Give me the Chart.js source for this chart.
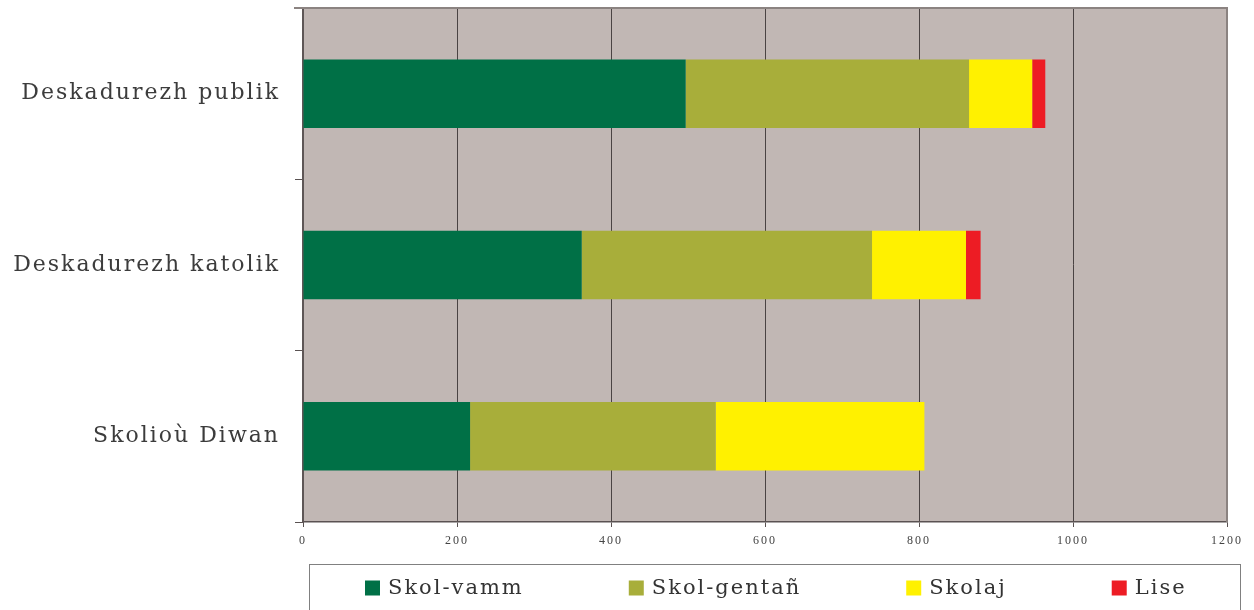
<!DOCTYPE html>
<html>
<head>
<meta charset="utf-8">
<script src="https://cdn.jsdelivr.net/npm/chart.js@4"></script>
<style>
  body { margin: 0; background: #fff; }
  #wrap { width: 1254px; height: 610px; position: relative; }
</style>
</head>
<body>
<div id="wrap"><canvas id="schoolChart"></canvas></div>
<script>
// ---------- DATA ----------
const categories = ["Deskadurezh publik", "Deskadurezh katolik", "Skolioù Diwan"];
const skolVamm = [497, 362, 217];
const skolGentan = [368, 377, 319];
const skolaj = [82, 122, 271];
const lise = [17, 19, 0];
const xTicks = [0, 200, 400, 600, 800, 1000, 1200];
const seriesNames = ["Skol-vamm", "Skol-gentañ", "Skolaj", "Lise"];
const seriesColors = ["#007046", "#a8ae3a", "#fff100", "#ed1c24"];

// ---------- PLUGINS ----------
// gray plot background + wider letter spacing for all canvas text
const plotBackground = {
  id: "plotBackground",
  beforeDraw(chart) {
    const { ctx, chartArea: a } = chart;
    ctx.letterSpacing = "2px";
    ctx.save();
    ctx.fillStyle = "#c1b7b4";
    ctx.fillRect(a.left, a.top, a.right - a.left, a.bottom - a.top);
    ctx.restore();
  },
  afterDraw(chart) {
    const { ctx, chartArea: a } = chart;
    ctx.save();
    ctx.strokeStyle = "#8b8381";
    ctx.lineWidth = 2;
    ctx.beginPath();
    ctx.moveTo(a.left - 9, a.top);
    ctx.lineTo(a.right, a.top);
    ctx.lineTo(a.right, a.bottom);
    ctx.stroke();
    ctx.restore();
  },
};

// legend inside a framed box under the axis
const boxLegend = {
  id: "boxLegend",
  afterDraw(chart) {
    const { ctx, chartArea: a } = chart;
    const top = a.bottom + 42;
    const cy = a.bottom + 66;
    ctx.save();
    ctx.strokeStyle = "#808080";
    ctx.lineWidth = 1;
    ctx.strokeRect(a.left + 6.5, top + 0.5, a.right - a.left + 7, 80);
    ctx.font = "21px 'DejaVu Serif'";
    ctx.textBaseline = "middle";
    let x = a.left + 62;
    chart.data.datasets.forEach((ds) => {
      ctx.fillStyle = ds.backgroundColor;
      ctx.fillRect(x, cy - 7.5, 15, 15);
      ctx.fillStyle = "#333";
      ctx.fillText(ds.label, x + 23, cy + 1);
      x += 23 + ctx.measureText(ds.label).width + 105;
    });
    ctx.restore();
  },
};

// ---------- CHART ----------
const seriesValues = [skolVamm, skolGentan, skolaj, lise];

new Chart(document.getElementById("schoolChart"), {
  type: "bar",
  data: {
    labels: categories,
    datasets: seriesNames.map((name, i) => ({
      label: name,
      data: seriesValues[i],
      backgroundColor: seriesColors[i],
      borderWidth: 0,
      barPercentage: 0.4,
      categoryPercentage: 1,
    })),
  },
  options: {
    indexAxis: "y",
    responsive: true,
    maintainAspectRatio: false,
    animation: false,
    layout: { padding: { top: 8, right: 27, bottom: 58, left: 0 } },
    plugins: {
      legend: { display: false },
      tooltip: { enabled: false },
    },
    scales: {
      x: {
        stacked: true,
        min: 0,
        max: 1200,
        afterBuildTicks: (scale) => {
          scale.ticks = xTicks.map((v) => ({ value: v }));
        },
        afterFit: (scale) => {
          scale.height = 30;
        },
        grid: { color: "#4a4343", lineWidth: 1, tickLength: 5, tickColor: "#5a5252" },
        border: { color: "#5a5252", width: 1.5 },
        ticks: {
          padding: 7,
          color: "#444",
          font: { family: "'Liberation Serif'", size: 12 },
          callback: (v) => String(v),
        },
      },
      y: {
        stacked: true,
        afterFit: (scale) => {
          scale.width = 303;
          scale.paddingTop = 0;
          scale.paddingBottom = 0;
        },
        grid: { drawOnChartArea: false, tickLength: 8, color: "#5a5252", offset: true },
        border: { color: "#5e5656", width: 2 },
        ticks: {
          padding: 15,
          color: "#3c3c3c",
          font: { family: "'DejaVu Serif'", size: 22 },
        },
      },
    },
  },
  plugins: [plotBackground, boxLegend],
});
</script>
</body>
</html>
